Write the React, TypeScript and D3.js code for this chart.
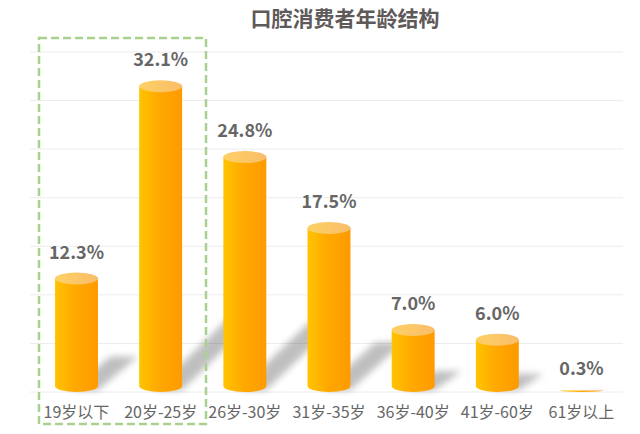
import React, { useEffect, useRef } from 'react';
import * as d3 from 'd3';

const categories = ['19岁以下', '20岁-25岁', '26岁-30岁', '31岁-35岁', '36岁-40岁', '41岁-60岁', '61岁以上'];
const shares = [12.3, 32.1, 24.8, 17.5, 7.0, 6.0, 0.3];
const yTicks = [0, 5, 10, 15, 20, 25, 30, 35];
const title = '口腔消费者年龄结构';

const App = () => {
  const ref = useRef<SVGSVGElement | null>(null);

  useEffect(() => {
    const width = 640;
    const height = 434;
    const svg = d3.select(ref.current);
    svg.selectAll('*').remove();
    svg.attr('width', width).attr('height', height);

    const font = '"Microsoft YaHei", "Noto Sans CJK SC", sans-serif';

    const x = d3.scaleBand().domain(categories).range([34, 624]).paddingInner(0.49).paddingOuter(0.25);
    const y = d3.scaleLinear().domain([0, 35]).range([392, 52]);

    const defs = svg.append('defs');
    const body = defs.append('linearGradient').attr('id', 'body').attr('x1', 0).attr('x2', 1).attr('y1', 0).attr('y2', 0);
    body.append('stop').attr('offset', '0%').attr('stop-color', '#ffc400');
    body.append('stop').attr('offset', '45%').attr('stop-color', '#ffa900');
    body.append('stop').attr('offset', '100%').attr('stop-color', '#ff9a00');
    const cap = defs.append('linearGradient').attr('id', 'cap').attr('x1', 0).attr('x2', 1).attr('y1', 0).attr('y2', 0);
    cap.append('stop').attr('offset', '0%').attr('stop-color', '#fdd064');
    cap.append('stop').attr('offset', '100%').attr('stop-color', '#f9bd6a');
    defs.append('filter').attr('id', 'blur').attr('x', '-50%').attr('y', '-50%').attr('width', '200%').attr('height', '200%')
      .append('feGaussianBlur').attr('stdDeviation', 3.5);

    // gridlines
    svg.append('g').selectAll('line').data(yTicks).enter().append('line')
      .attr('x1', 30).attr('x2', 623)
      .attr('y1', d => y(d)).attr('y2', d => y(d))
      .attr('stroke', '#ececec').attr('stroke-width', 1);

    const bw = x.bandwidth();
    const ry = 6;

    // shadows
    svg.append('g').selectAll('path').data(shares).enter().append('path')
      .attr('d', (d, i) => {
        const x0 = x(categories[i])!;
        const h = y(0) - y(d);
        const dy = Math.min(h * 0.28, 75);
        const dx = dy * 0.9 + 10;
        const b = y(0) - 2;
        return `M${x0 + bw * 0.35},${b} L${x0 + bw},${b} L${x0 + bw + dx},${b - dy} L${x0 + bw * 0.35 + dx},${b - dy} Z`;
      })
      .attr('fill', '#000').attr('opacity', 0.25).attr('filter', 'url(#blur)');

    const bars = svg.append('g').selectAll('g').data(shares).enter().append('g');
    bars.append('path')
      .attr('d', (d, i) => {
        const x0 = x(categories[i])!;
        const h = y(0) - y(d);
        const r = Math.min(ry, h / 2);
        const top = y(d) + r;
        const base = y(0) - r;
        return `M${x0},${top} L${x0},${base} A${bw / 2},${r} 0 0 0 ${x0 + bw},${base} L${x0 + bw},${top} Z`;
      })
      .attr('fill', 'url(#body)');
    bars.filter(d => y(0) - y(d) > ry * 2).append('ellipse')
      .attr('cx', (d, i, n) => x(categories[shares.indexOf(d)])! + bw / 2)
      .attr('cy', d => y(d) + ry)
      .attr('rx', bw / 2)
      .attr('ry', ry)
      .attr('fill', 'url(#cap)');

    bars.append('text')
      .attr('x', (d, i) => x(categories[i])! + bw / 2)
      .attr('y', d => y(d) - 14)
      .attr('text-anchor', 'middle')
      .attr('font-family', font).attr('font-size', 18).attr('font-weight', 'bold')
      .attr('fill', '#666')
      .text(d => d.toFixed(1) + '%');

    svg.append('g').selectAll('text').data(categories).enter().append('text')
      .attr('x', d => x(d)! + bw / 2)
      .attr('y', 418)
      .attr('text-anchor', 'middle')
      .attr('font-family', font).attr('font-size', 16)
      .attr('fill', '#666')
      .text(d => d);

    // highlight box
    svg.append('rect')
      .attr('x', 39).attr('y', 38).attr('width', 167).attr('height', 386)
      .attr('fill', 'none').attr('stroke', '#a9d18e').attr('stroke-width', 2.5)
      .attr('stroke-dasharray', '8,4');

    svg.append('text')
      .attr('x', 345).attr('y', 26)
      .attr('text-anchor', 'middle')
      .attr('font-family', font).attr('font-size', 21).attr('font-weight', 'bold')
      .attr('fill', '#5f5a5a')
      .text(title);
  }, []);

  return <svg ref={ref} style={{ position: 'absolute', left: 0, top: 0 }} />;
};

export default App;
